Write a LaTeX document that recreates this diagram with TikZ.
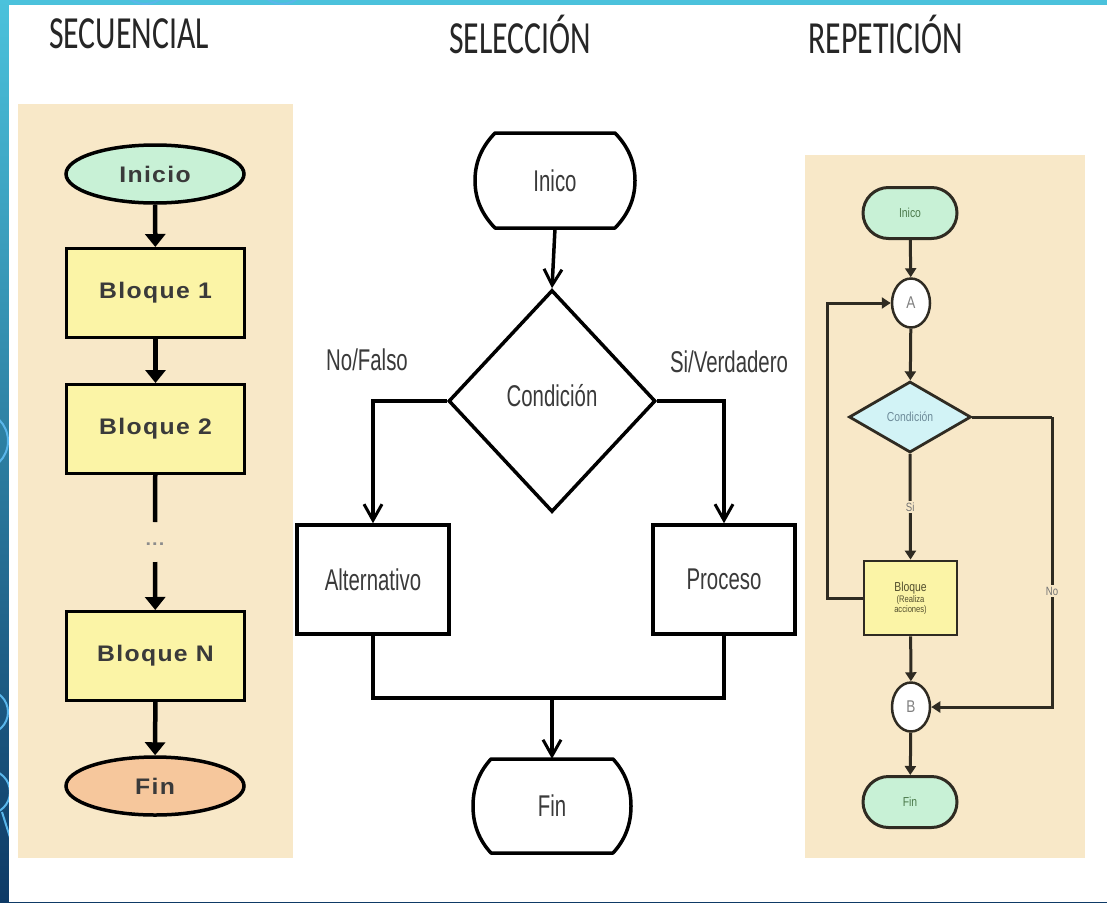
\documentclass[tikz,border=0pt]{standalone}
\usepackage{fontspec}
\usetikzlibrary{arrows.meta,shapes.geometric,shapes.misc,calc}
\setmainfont{Liberation Sans}
\newfontfamily\headfont[FakeStretch=0.69]{Carlito}
\newfontfamily\seqfont[FakeStretch=1.1,LetterSpace=6]{Liberation Sans}
\newfontfamily\narrowfont[FakeStretch=0.68]{Liberation Sans}
\newfontfamily\smallfont[FakeStretch=0.8]{Liberation Sans}

\definecolor{bandtop}{HTML}{4BC2DC}
\definecolor{bandbot}{HTML}{0E3A66}
\definecolor{ringblue}{HTML}{5AB6EA}
\definecolor{panel}{HTML}{F8E8C8}
\definecolor{mint}{HTML}{C8F1D6}
\definecolor{lemon}{HTML}{FBF4A6}
\definecolor{peach}{HTML}{F6C79C}
\definecolor{icecyan}{HTML}{D2F3F6}
\definecolor{ink}{HTML}{3A3A3A}
\definecolor{rline}{HTML}{2F2B22}

\tikzset{
  heading/.style={font=\headfont\fontsize{46}{50}\selectfont, text=black!85},
  seqterm/.style={ellipse, draw=black, line width=3.5pt, inner sep=0pt,
    minimum width=178pt, minimum height=58pt,
    font=\seqfont\bfseries\fontsize{22.5}{26}\selectfont, text=ink},
  seqbox/.style={rectangle, draw=black, line width=3pt, fill=lemon,
    minimum width=178pt, minimum height=89pt,
    font=\seqfont\bfseries\fontsize{22.5}{26}\selectfont, text=ink},
  seqarrow/.style={draw=black, line width=4.5pt,
    -{Triangle[width=20pt,length=13pt]}},
  seqline/.style={draw=black, line width=4.5pt},
  midtext/.style={font=\narrowfont\fontsize{30}{34}\selectfont, text=ink},
  midbox/.style={rectangle, draw=black, line width=3.5pt, fill=white,
    minimum height=109pt, midtext},
  midterm/.style={rectangle, minimum width=160pt, minimum height=95pt, midtext},
  midline/.style={draw=black, line width=3.5pt},
  midarrow/.style={midline, -{Straight Barb[length=16pt,width=18pt,line width=3pt]}},
  rtext/.style={font=\smallfont\fontsize{13}{14}\selectfont},
  rterm/.style={rounded rectangle, draw=rline, line width=3pt, fill=mint,
    minimum width=94pt, minimum height=51pt, inner sep=0pt, rtext, text=black!55!green!40!gray},
  rjoin/.style={ellipse, draw=rline, line width=2.5pt, fill=white, inner sep=0pt,
    minimum width=38pt, minimum height=49pt,
    font=\smallfont\fontsize{17}{18}\selectfont, text=black!50},
  rline/.style={draw=rline, line width=3pt},
  rarrow/.style={rline, -{Triangle[width=11pt,length=9pt]}},
  rlabel/.style={fill=panel, inner sep=1.5pt, font=\smallfont\fontsize{12}{13}\selectfont, text=black!55},
}

\begin{document}
\begin{tikzpicture}[x=1pt,y=-1pt]
\useasboundingbox (0,0) rectangle (1107,902);

% slide frame: gradient band with faint rings, white page on top
\shade[top color=bandtop, bottom color=bandbot] (0,0) rectangle (1107,902);
\begin{scope}[draw=ringblue, line width=2pt]
  \draw (-22,441) circle (30);
  \draw (-14,712) circle (22);
  \draw (-12,792) circle (22);
  \draw (2,812) -- (14,850);
  \draw (145,-22) circle (26);
  \draw (282,-20) circle (24);
\end{scope}
\fill[white] (9,5) rectangle (1107,902);

% headings
\node[heading] (h1) at (129,34) {SECUENCIAL};
\node[heading] (h2) at (520,34) {SELECCIÓN};
\node[heading] (h3) at (886,34) {REPETICIÓN};

% ---------- sequential flow ----------
\fill[panel] (18,104) rectangle (293,858);
\node[seqterm, fill=mint] (s0) at (155,174) {Inicio};
\node[seqbox] (s1) at (155.5,293) {Bloque 1};
\node[seqbox] (s2) at (155.5,429) {Bloque 2};
\node[font=\seqfont\bfseries\fontsize{18}{20}\selectfont, text=black!45] (sd) at (155,544) {...};
\node[seqbox] (sn) at (155.5,656) {Bloque N};
\node[seqterm, fill=peach] (sf) at (155,786) {Fin};
\coordinate (sdtop) at (155,522);
\coordinate (sdbot) at (155,562);
\draw[seqarrow] (s0) -- (s1);
\draw[seqarrow] (s1) -- (s2);
\draw[seqline] (s2) -- (sdtop);
\draw[seqarrow] (sdbot) -- (sn);
\draw[seqarrow] (sn) -- (sf);

% ---------- selection flow ----------
\node[midterm] (mi) at (555,180.5) {Inico};
\begin{scope}[shift={(mi.center)}]
  \draw[line width=3.5pt, line join=round] (-60,-47.5) -- (60,-47.5)
    .. controls (72,-35) and (80,-20) .. (80,0)
    .. controls (80,20) and (72,35) .. (60,47.5) -- (-60,47.5)
    .. controls (-72,35) and (-80,20) .. (-80,0)
    .. controls (-80,-20) and (-72,-35) .. cycle;
\end{scope}
\node[diamond, draw=black, line width=3.5pt, fill=white, inner sep=0pt,
  minimum width=207pt, minimum height=222pt, midtext] (mc) at (552,401) {};
\node[midtext] (mct) at (552,396) {Condición};
\node[midbox, minimum width=152pt] (ma) at (373,579.5) {Alternativo};
\node[midbox, minimum width=142pt] (mp) at (724,579.5) {Proceso};
\node[midterm, minimum width=158pt, minimum height=94pt] (mf) at (552,806) {Fin};
\begin{scope}[shift={(mf.center)}]
  \draw[line width=3.5pt, line join=round] (-61,-47) -- (61,-47)
    .. controls (72,-35) and (79,-20) .. (79,0)
    .. controls (79,20) and (72,35) .. (61,47) -- (-61,47)
    .. controls (-72,35) and (-79,20) .. (-79,0)
    .. controls (-79,-20) and (-72,-35) .. cycle;
\end{scope}
\node[midtext] (lno) at (367,360) {No/Falso};
\node[midtext] (lsi) at (729,362) {Si/Verdadero};
\coordinate (mj) at (552,698);
\draw[midarrow] (mi.south) -- (mc.north);
\draw[midarrow] (mc.west) -| (ma.north);
\draw[midarrow] (mc.east) -| (mp.north);
\draw[midline] (ma.south) |- (mj) -| (mp.south);
\draw[midarrow] (mj) -- (mf.north);

% ---------- repetition flow ----------
\fill[panel] (805,155) rectangle (1085,858);
\node[rterm] (r0) at (910,213) {Inico};
\node[rjoin] (ra) at (911,303) {A};
\node[diamond, draw=rline, line width=2.8pt, fill=icecyan, inner sep=0pt,
  minimum width=122pt, minimum height=71pt, rtext, text=black!40!cyan!50!gray] (rc) at (910,417) {Condición};
\node[rectangle, draw=rline, line width=2.8pt, fill=lemon, minimum width=93pt,
  minimum height=74pt, align=center, inner sep=1pt, text=black!55!olive,
  font=\smallfont\fontsize{13}{12}\selectfont] (rb) at (910.5,598)
  {Bloque\\[-1pt]{\fontsize{9.5}{11}\selectfont(Realiza}\\[-2pt]{\fontsize{9.5}{11}\selectfont acciones)}};
\node[rjoin] (rj) at (911,707) {B};
\node[rterm] (rf) at (910,802) {Fin};
\coordinate (rno) at (1052,417);
\draw[rarrow] (r0) -- (ra);
\draw[rarrow] (ra) -- (rc);
\draw[rarrow] (rc.south) -- (rb.north) node[rlabel, pos=0.5] {Si};
\draw[rarrow] (rb.west) -- ++(-35,0) |- (ra.west);
\draw[rline] (rc.east) -- (rno);
\draw[rarrow] (rno) |- (rj.east) node[rlabel, pos=0.3] {No};
\draw[rarrow] (rb) -- (rj);
\draw[rarrow] (rj) -- (rf);
\end{tikzpicture}
\end{document}
